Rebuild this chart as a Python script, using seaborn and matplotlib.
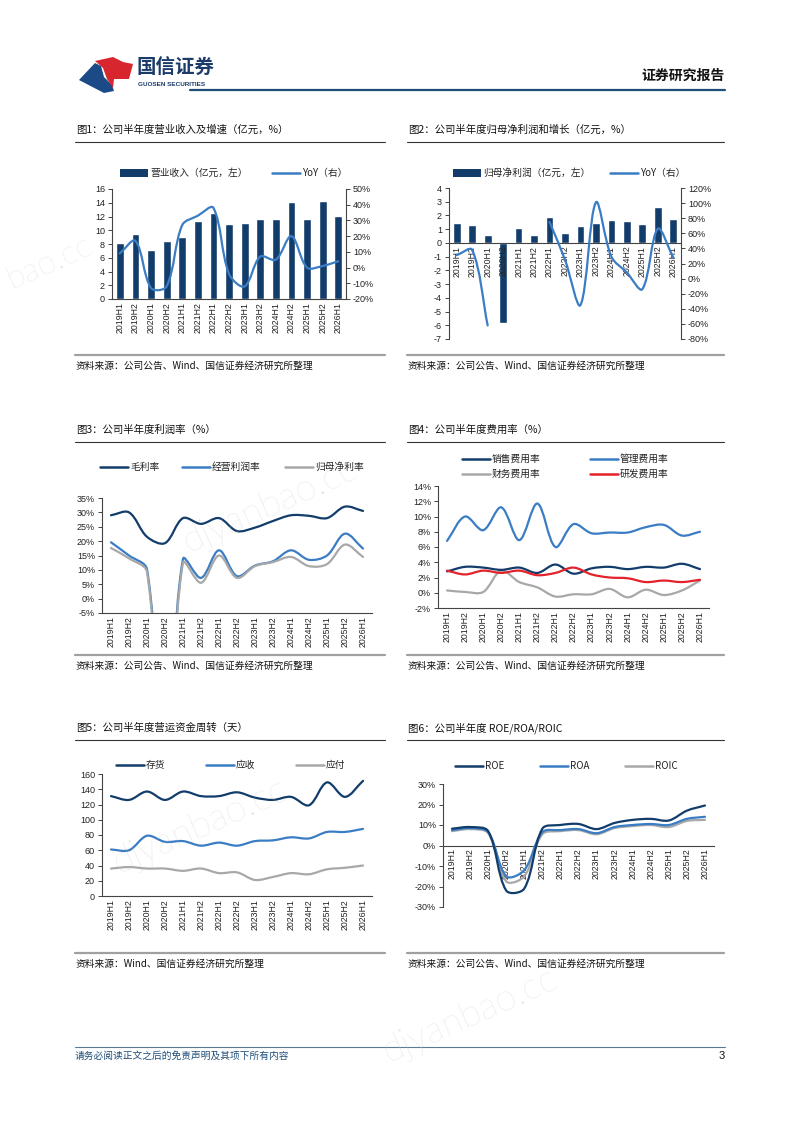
import numpy as np
import seaborn as sns
import matplotlib
matplotlib.use('Agg')
import matplotlib.pyplot as plt
from matplotlib.path import Path
from matplotlib.patches import PathPatch, Polygon, Rectangle
from matplotlib.lines import Line2D

# half-year periods shared by all six charts
periods = ['2019H1', '2019H2', '2020H1', '2020H2', '2021H1', '2021H2', '2022H1', '2022H2',
           '2023H1', '2023H2', '2024H1', '2024H2', '2025H1', '2025H2', '2026H1']

# Fig 1: revenue (100m CNY) and YoY (%)
revenue = [8.2, 9.5, 7.2, 8.5, 9.0, 11.3, 12.5, 10.9, 11.0, 11.7, 11.7, 14.1, 11.7, 14.2, 12.1]
revenue_yoy = [9, 17, -13, -12, 27, 33, 38, -4, -12, 7, 5, 20, 0, 1, 4]

# Fig 2: net profit attributable (100m CNY) and YoY (%), gaps where YoY is undefined
profit = [1.45, 1.3, 0.55, -5.8, 1.05, 0.6, 1.9, 0.75, 1.25, 1.45, 1.65, 1.6, 1.4, 2.65, 1.75]
profit_yoy = [31, 38, -62, np.nan, np.nan, np.nan, 75, 25, -35, 101, 29, 8, -14, 66, 28]

# Fig 3: margins (%)
gross_margin = [29, 30, 21.5, 19.3, 28, 26, 28, 23.5, 24.7, 27, 29, 28.8, 28, 32, 30.5]
op_margin = [19.6, 15, 10.2, -60, 13.8, 7.2, 16.8, 7.8, 11.5, 13, 16.8, 13.5, 15, 22.6, 17.4]
net_margin = [17.6, 14, 9.3, -65, 12.5, 5.5, 15, 7.2, 11.3, 12.7, 14.5, 11.3, 12, 18.8, 14.5]

# Fig 4: expense ratios (%)
sales_exp = [2.8, 3.4, 3.3, 3.0, 3.3, 2.6, 3.7, 2.5, 3.2, 3.4, 3.1, 3.4, 3.3, 3.8, 3.1]
admin_exp = [6.8, 10.0, 8.2, 11.2, 6.9, 11.7, 6.0, 9.0, 7.8, 7.9, 7.9, 8.6, 8.9, 7.5, 8.0]
fin_exp = [0.3, 0.1, 0.1, 2.9, 1.4, 0.7, -0.5, -0.2, -0.2, 0.5, -0.6, 0.4, -0.3, 0.3, 1.6]
rd_exp = [2.9, 2.4, 2.9, 2.6, 2.9, 2.3, 2.6, 3.3, 2.4, 2.0, 1.9, 1.4, 1.6, 1.4, 1.7]

# Fig 5: working capital turnover (days)
inventory_days = [131, 126, 137, 126, 137, 131, 131, 136, 129, 126, 130, 119, 149, 130, 151]
receivable_days = [61, 60, 79, 71, 72, 66, 70, 66, 72, 73, 77, 75.5, 84, 84, 88]
payable_days = [36, 38, 36, 36, 33, 36, 30, 31, 21, 25, 30, 28.5, 35, 37, 40]

# Fig 6: returns (%)
roe = [8.2, 9, 7, -22, -21, 8.2, 10, 10.5, 8, 11, 12.5, 13, 12.2, 17, 19.5]
roa = [7.5, 8.5, 6.5, -15, -12, 6.5, 7.5, 8, 6, 9, 10, 10.5, 10, 13, 14]
roic = [7, 8, 6, -17.5, -15, 5.5, 7, 7.5, 5.5, 8.5, 9.5, 10, 9, 12, 12.5]

NAVY = '#123D6B'
BLUE = '#3B7DC4'
GRAY = '#A8A8A8'
RED = '#E3222B'
TXT = '#222222'
W, H = 800, 1132

sns.set_theme(style='white')
plt.rcParams['font.family'] = ['Liberation Sans', 'Noto Sans CJK SC', 'DejaVu Sans']
plt.rcParams['axes.unicode_minus'] = False

fig = plt.figure(figsize=(8, 11.32), dpi=100)


def fx(x):
    return x / W


def fy(y):
    return 1 - y / H


def add_axes(left, top, right, bottom):
    return fig.add_axes([left / W, 1 - bottom / H, (right - left) / W, (bottom - top) / H])


def hline(x0, x1, y, color, lw):
    fig.add_artist(Line2D([fx(x0), fx(x1)], [fy(y), fy(y)], color=color, lw=lw))


def smooth_line(ax, values, color, lw=1.6):
    """Excel-style smoothed line: bezier segments, tangents weighted by pixel distance."""
    pos = ax.get_position()
    xl, yl = ax.get_xlim(), ax.get_ylim()
    sx = pos.width * W / (xl[1] - xl[0])
    sy = pos.height * H / (yl[1] - yl[0])
    y = np.asarray(values, dtype=float)
    x = np.arange(len(y), dtype=float)
    ok = ~np.isnan(y)
    runs, start = [], None
    for i, flag in enumerate(ok):
        if flag and start is None:
            start = i
        if not flag and start is not None:
            runs.append((start, i))
            start = None
    if start is not None:
        runs.append((start, len(y)))
    for a, b in runs:
        pts = np.column_stack([x[a:b] * sx, y[a:b] * sy])
        n = len(pts)
        if n < 2:
            continue
        verts = [pts[0]]
        codes = [Path.MOVETO]
        for i in range(n - 1):
            p0, p1, p2 = pts[max(i - 1, 0)], pts[i], pts[i + 1]
            p3 = pts[min(i + 2, n - 1)]
            d01 = np.hypot(*(p1 - p0))
            d12 = np.hypot(*(p2 - p1))
            d23 = np.hypot(*(p3 - p2))
            f1 = d12 / (d01 + d12) / 3 if d01 + d12 > 0 else 0
            f2 = d12 / (d12 + d23) / 3 if d12 + d23 > 0 else 0
            c1 = p1 + (p2 - p0) * f1
            c2 = p2 - (p3 - p1) * f2
            verts += [c1, c2, p2]
            codes += [Path.CURVE4] * 3
        verts = [(v[0] / sx, v[1] / sy) for v in verts]
        ax.add_patch(PathPatch(Path(verts, codes), fill=False, edgecolor=color, lw=lw,
                               capstyle='round', joinstyle='round', zorder=3))


def style_axes(ax, ylim, yticks, fmt, xtick_dir='in', zero_axis=False):
    n = len(periods)
    if zero_axis:
        ax.spines['bottom'].set_position(('data', 0))
    ax.set_xlim(-0.5, n - 0.5)
    ax.set_ylim(*ylim)
    ax.set_yticks(yticks)
    ax.set_yticklabels([fmt(v) for v in yticks], fontsize=6.5, color=TXT)
    ax.set_xticks(range(n))
    ax.set_xticklabels(periods, rotation=90, fontsize=6.3, color=TXT)
    ax.set_xticks(np.arange(0.5, n - 1, 1), minor=True)
    ax.tick_params(axis='x', which='major', length=0, pad=2)
    ax.tick_params(axis='x', which='minor', direction=xtick_dir, length=3, width=0.7, color='#444444')
    ax.tick_params(axis='y', which='major', direction='out', length=3, width=0.7, color='#444444', pad=2,
                   left=True)
    ax.set_xlabel('')
    ax.set_ylabel('')
    for side in ['top', 'right']:
        ax.spines[side].set_visible(False)
    for side in ['left', 'bottom']:
        ax.spines[side].set_color('#444444')
        ax.spines[side].set_linewidth(0.8)
    ax.grid(False)
    ax.set_facecolor('none')


def style_right(ax, lo, hi, step):
    ticks = list(range(lo, hi + 1, step))
    ax.set_ylim(lo, hi)
    ax.set_yticks(ticks)
    ax.set_yticklabels([pct(v) for v in ticks], fontsize=6.5, color=TXT)
    ax.tick_params(axis='y', direction='out', length=3, width=0.7, color='#444444', pad=2, right=True)
    for side in ['top', 'left', 'bottom']:
        ax.spines[side].set_visible(False)
    ax.spines['right'].set_color('#444444')
    ax.spines['right'].set_linewidth(0.8)
    ax.grid(False)


def legend_items(items, y):
    for x, kind, color, label in items:
        if kind == 'bar':
            fig.add_artist(Rectangle((fx(x), fy(y + 4)), 28 / W, 8 / H, transform=fig.transFigure,
                                     color=color, lw=0))
        else:
            hline(x, x + 28, y, color, 1.8)
        fig.text(fx(x + 30), fy(y), label, fontsize=7, color=TXT, va='center', ha='left',
                 family=['Noto Sans CJK SC', 'DejaVu Sans'])


def frame_texts(x0, x1, y, title, source):
    fig.text(fx(x0 + 1), fy(y), title, fontsize=7.5, color='#111111', va='center', ha='left',
             family=['Noto Sans CJK SC', 'DejaVu Sans'])
    hline(x0, x1, y + 11.5, '#333333', 0.8)
    hline(x0, x1, y + 225, '#A0A0A0', 1.6)
    fig.text(fx(x0 + 1), fy(y + 236), source, fontsize=7, color='#111111', va='center', ha='left',
             family=['Noto Sans CJK SC', 'DejaVu Sans'])


def pct(v):
    return f'{v:.0f}%'


def num(v):
    return f'{v:.0f}'


# ---------- header / footer ----------
fig.add_artist(Polygon([(fx(x), fy(y)) for x, y in
                        [(79, 80), (95, 63), (101, 66), (104, 77), (112, 85), (114, 91), (104, 93)]],
                       closed=True, transform=fig.transFigure, color='#1B4A86', lw=0))
fig.add_artist(Polygon([(fx(x), fy(y)) for x, y in
                        [(95, 61), (113, 57), (123, 62), (133, 64), (129, 79), (114, 79), (113, 88),
                         (107, 79), (103, 68)]],
                       closed=True, transform=fig.transFigure, color='#D7262E', lw=0))
fig.text(fx(137), fy(68), '国信证券', fontsize=14, fontweight='bold', color='#1B3C6B', va='center',
         family=['Noto Sans CJK SC'])
fig.text(fx(138), fy(84), 'GUOSEN SECURITIES', fontsize=4.6, fontweight='bold', color='#1B3C6B', va='center')
fig.text(fx(725), fy(76), '证券研究报告', fontsize=10, fontweight='bold', color='#111111', va='center', ha='right',
         family=['Noto Sans CJK SC'])
hline(190, 725, 90, '#1F4E79', 1.6)

hline(75, 725, 1047, '#5B7A99', 0.8)
fig.text(fx(75), fy(1056), '请务必阅读正文之后的免责声明及其项下所有内容', fontsize=7, color='#1F4E79', va='center',
         family=['Noto Sans CJK SC'], style='italic')
fig.text(fx(725), fy(1056), '3', fontsize=8, color='#111111', va='center', ha='right')

# ---------- Fig 1 ----------
frame_texts(75, 385, 130, '图1：公司半年度营业收入及增速（亿元，%）', '资料来源：公司公告、Wind、国信证券经济研究所整理')
ax1 = add_axes(112, 189, 346, 299)
sns.barplot(x=periods, y=revenue, color=NAVY, width=0.5, saturation=1, ax=ax1)
style_axes(ax1, (0, 16), list(range(0, 17, 2)), num)
ax1r = ax1.twinx()
style_right(ax1r, -20, 50, 10)
smooth_line(ax1r, revenue_yoy, BLUE)
legend_items([(120, 'bar', NAVY, '营业收入（亿元，左）'), (272, 'line', BLUE, 'YoY（右）')], 173)

# ---------- Fig 2 ----------
frame_texts(407, 724, 130, '图2：公司半年度归母净利润和增长（亿元，%）', '资料来源：公司公告、Wind、国信证券经济研究所整理')
ax2 = add_axes(449, 188, 681, 339)
sns.barplot(x=periods, y=profit, color=NAVY, width=0.5, saturation=1, ax=ax2, zorder=1)
style_axes(ax2, (-7, 4), list(range(-7, 5)), num, xtick_dir='out', zero_axis=True)
ax2.set_axisbelow(False)
ax2r = ax2.twinx()
style_right(ax2r, -80, 120, 20)
smooth_line(ax2r, profit_yoy, BLUE)
legend_items([(453, 'bar', NAVY, '归母净利润（亿元，左）'), (610, 'line', BLUE, 'YoY（右）')], 173)

# ---------- Fig 3 ----------
frame_texts(75, 385, 430, '图3：公司半年度利润率（%）', '资料来源：公司公告、Wind、国信证券经济研究所整理')
ax3 = add_axes(102, 498, 372, 613)
style_axes(ax3, (-5, 35), list(range(-5, 36, 5)), pct)
smooth_line(ax3, gross_margin, NAVY)
smooth_line(ax3, op_margin, BLUE)
smooth_line(ax3, net_margin, GRAY)
legend_items([(100, 'line', NAVY, '毛利率'), (182, 'line', BLUE, '经营利润率'), (285, 'line', GRAY, '归母净利率')], 467)

# ---------- Fig 4 ----------
frame_texts(407, 724, 430, '图4：公司半年度费用率（%）', '资料来源：公司公告、Wind、国信证券经济研究所整理')
ax4 = add_axes(438, 486, 709, 608)
style_axes(ax4, (-2, 14), list(range(-2, 15, 2)), pct)
smooth_line(ax4, admin_exp, BLUE)
smooth_line(ax4, fin_exp, GRAY)
smooth_line(ax4, sales_exp, NAVY)
smooth_line(ax4, rd_exp, RED)
legend_items([(462, 'line', NAVY, '销售费用率'), (590, 'line', BLUE, '管理费用率')], 459)
legend_items([(462, 'line', GRAY, '财务费用率'), (590, 'line', RED, '研发费用率')], 474)

# ---------- Fig 5 ----------
frame_texts(75, 385, 728, '图5：公司半年度营运资金周转（天）', '资料来源：Wind、国信证券经济研究所整理')
ax5 = add_axes(102, 774, 372, 896)
style_axes(ax5, (0, 160), list(range(0, 161, 20)), num)
smooth_line(ax5, inventory_days, NAVY)
smooth_line(ax5, receivable_days, BLUE)
smooth_line(ax5, payable_days, GRAY)
legend_items([(116, 'line', NAVY, '存货'), (206, 'line', BLUE, '应收'), (296, 'line', GRAY, '应付')], 765)

# ---------- Fig 6 ----------
frame_texts(407, 724, 728, '图6：公司半年度 ROE/ROA/ROIC', '资料来源：公司公告、Wind、国信证券经济研究所整理')
ax6 = add_axes(443, 784, 714, 907)
style_axes(ax6, (-30, 30), list(range(-30, 31, 10)), pct, xtick_dir='out', zero_axis=True)
smooth_line(ax6, roic, GRAY)
smooth_line(ax6, roa, BLUE)
smooth_line(ax6, roe, NAVY)
legend_items([(455, 'line', NAVY, 'ROE'), (540, 'line', BLUE, 'ROA'), (625, 'line', GRAY, 'ROIC')], 766)

# ---------- watermarks ----------
for x, y, text, size in [(50, 262, 'bao.cc', 24), (270, 505, 'djyanbao.cc', 27), (200, 826, 'djyanbao.cc', 27),
                         (470, 1015, 'djyanbao.cc', 27)]:
    fig.text(fx(x), fy(y), text, fontsize=size, color='#C8C8C8', alpha=0.55, rotation=24,
             ha='center', va='center', family=['Lato', 'DejaVu Sans'], fontweight='light', zorder=10)

fig.savefig('out.png', dpi=100)
